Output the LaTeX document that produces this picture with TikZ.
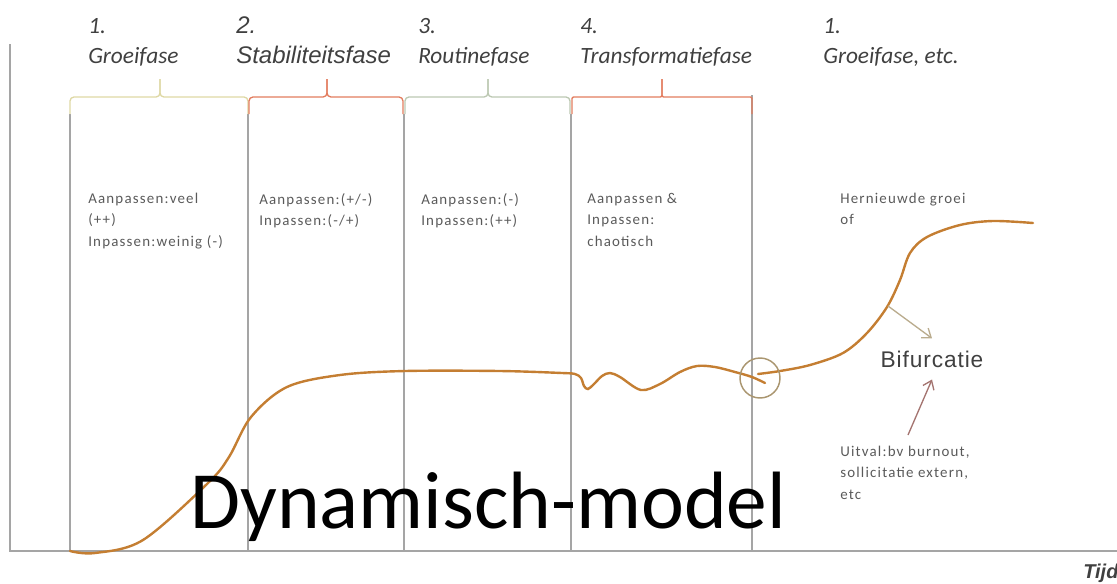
\documentclass[tikz,border=0pt]{standalone}
\usepackage{fontspec}
\setmainfont{Carlito}
\newfontfamily\arialfont{Liberation Sans}
\newfontfamily\notefont[LetterSpace=8]{Carlito}
\newfontfamily\bifont[LetterSpace=4]{Liberation Sans}
\usetikzlibrary{arrows.meta}

\definecolor{curvebrown}{RGB}{196,126,50}
\definecolor{phasegray}{RGB}{165,165,165}
\definecolor{braceolive}{RGB}{222,216,165}
\definecolor{braceorange}{RGB}{226,124,94}
\definecolor{bracegreen}{RGB}{188,200,178}
\definecolor{ringtan}{RGB}{170,150,112}
\definecolor{arrowtan}{RGB}{186,172,142}
\definecolor{arrowmauve}{RGB}{164,116,112}
\definecolor{headgray}{RGB}{64,64,64}
\definecolor{notegray}{RGB}{90,90,90}

\tikzset{
  phase/.style={draw=phasegray, line width=1.4pt},
  brace/.style={line width=1pt, rounded corners=3},
  heading/.style={anchor=base west, inner sep=0pt, text=headgray,
    font=\fontsize{17.5}{20}\selectfont\itshape},
  headarial/.style={heading, font=\arialfont\fontsize{18}{20}\selectfont\itshape},
  note/.style={anchor=north west, inner sep=0pt, align=left, text=notegray,
    font=\notefont\fontsize{11.2}{16}\selectfont},
}

\begin{document}
\begin{tikzpicture}[x=0.75pt, y=-0.75pt, >={Straight Barb[length=6pt,width=9pt]}]
    \useasboundingbox (0,0) rectangle (1117,583);
    % axes and phase borders
    \draw[phase] (10,44) -- (10,551) -- (1117,551);
    \draw[phase] (70,114) -- (70,551);
    \draw[phase] (248,114) -- (248,551);
    \draw[phase] (404,114) -- (404,551);
    \draw[phase] (571,114) -- (571,551);
    \draw[phase] (752,95) -- (752,551);
    % braces over the phases
    \draw[brace, braceolive] (70,114) |- (160,97) -- (160,79);
    \draw[brace, braceolive] (160,79) -- (160,97) -| (248,114);
    \draw[brace, braceorange] (249,114) |- (327,97) -- (327,79);
    \draw[brace, braceorange] (327,79) -- (327,97) -| (403,114);
    \draw[brace, bracegreen] (405,114) |- (488,97) -- (488,79);
    \draw[brace, bracegreen] (488,79) -- (488,97) -| (570,114);
    \draw[brace, braceorange, rounded corners=1] (572,114) |- (662,97) -- (662,79);
    \draw[brace, braceorange, rounded corners=1] (662,79) -- (662,97) -| (752,114);
    % phase titles
    \node[heading] (N1) at (88,33) {1.};
    \node[heading] (H1) at (88,63) {Groeifase};
    \node[headarial] (N2) at (236,33) {2.};
    \node[headarial] (H2) at (236,63) {Stabiliteitsfase};
    \node[heading] (N3) at (418,33) {3.};
    \node[heading] (H3) at (418,63) {Routinefase};
    \node[heading] (N4) at (580,33) {4.};
    \node[heading] (H4) at (580,63) {Transformatiefase};
    \node[heading] (N5) at (823,33) {1.};
    \node[heading] (H5) at (823,63) {Groeifase, etc.};
    % notes per phase
    \node[note] (T1) at (88,193) {Aanpassen:veel\\(++)\\Inpassen:weinig (-)};
    \node[note] (T2) at (259,193) {Aanpassen:(+/-)\\Inpassen:(-/+)};
    \node[note] (T3) at (421,193) {Aanpassen:(-)\\Inpassen:(++)};
    \node[note] (T4) at (587,193) {Aanpassen \&\\Inpassen:\\chaotisch};
    \node[note] (T5) at (840,193) {Hernieuwde groei\\of};
    \node[note] (T6) at (840,446) {Uitval:bv burnout,\\sollicitatie extern,\\etc};
    % development curve
    \draw[curvebrown, line width=1.8pt, line cap=round] plot[smooth, tension=0.55] coordinates {
      (70,551) (95,553) (143,540) (208,483) (229,457) (251,417) (287,387)
      (340,375) (405,371) (500,371) (562,373) (575,374) (581,378) (584,386)
      (588,389) (594,384) (602,376) (610,373) (620,377) (641,390) (660,384)
      (680,372) (697,366) (715,367) (735,372) (752,377) (765,383)};
    \draw[curvebrown, line width=1.8pt, line cap=round] plot[smooth, tension=0.55] coordinates {
      (758,374) (780,371) (810,365) (843,353) (867,333) (887,307) (900,280)
      (910,253) (927,237) (960,225) (993,221) (1033,223)};
    \node[draw=ringtan, line width=1.1pt, circle, minimum size=30pt, inner sep=0pt] (RING) at (760,378) {};
    % bifurcation label and pointers
    \node[anchor=base, inner sep=9pt, text=headgray, font=\bifont\fontsize{17}{20}\selectfont] (BF) at (932,367) {Bifurcatie};
    \coordinate (C1) at (888,306);
    \coordinate (U1) at (908,435);
    \path (C1) edge [->, draw=arrowtan, line width=1pt] (BF.north);
    \path (U1) edge [->, draw=arrowmauve, line width=1pt] (BF.south);
    % title and time axis
    \node[anchor=base west, inner sep=0pt, font=\fontsize{61}{61}\selectfont] (TITLE) at (190,528) {Dynamisch-model};
    \node[anchor=base west, inner sep=0pt, text=headgray, font=\arialfont\bfseries\itshape\fontsize{15}{18}\selectfont] (TIJD) at (1083,578) {Tijd};
\end{tikzpicture}
\end{document}
